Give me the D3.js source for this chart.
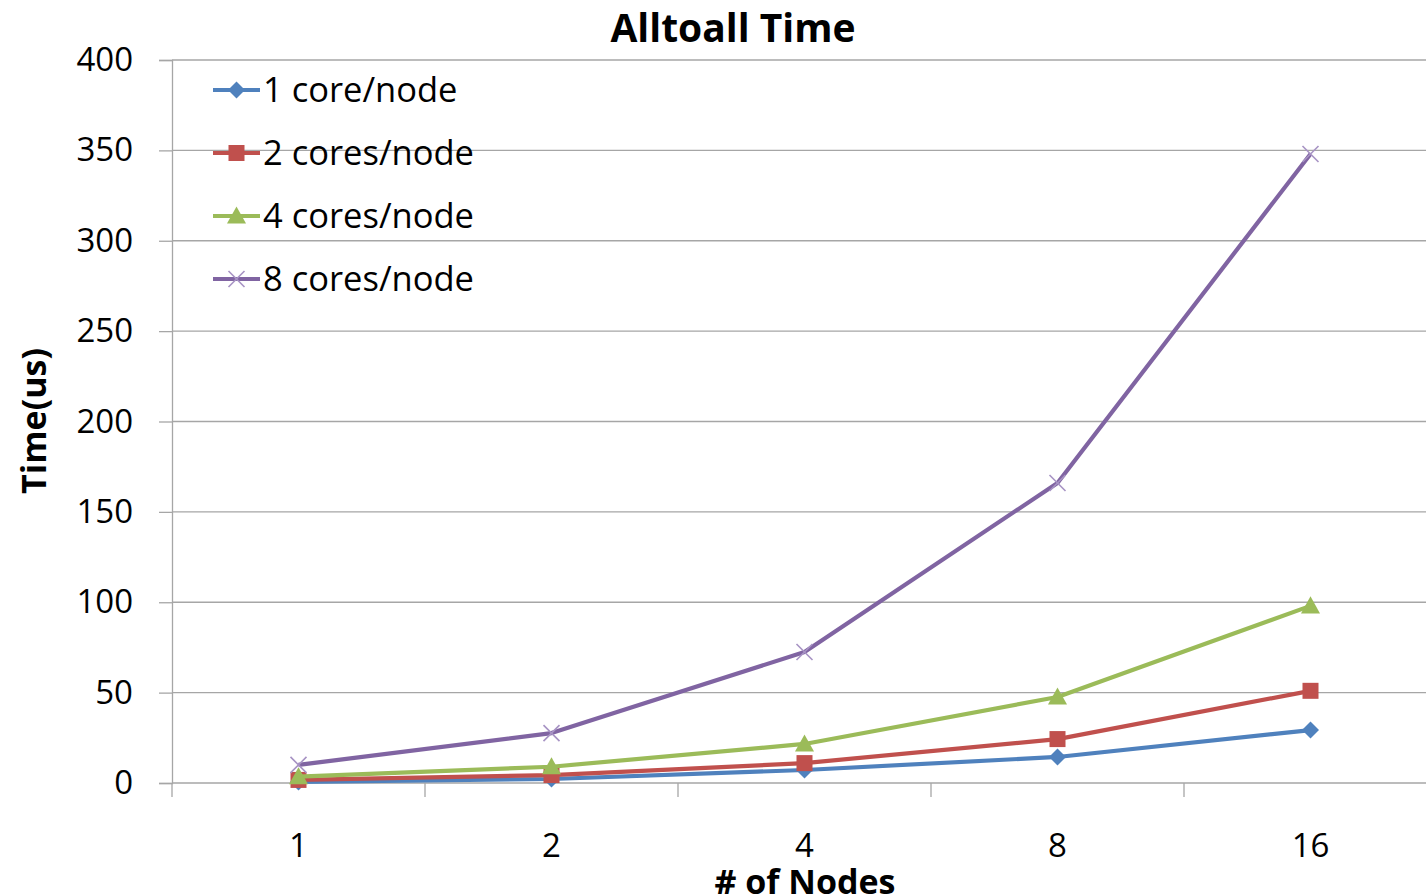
<!DOCTYPE html>
<html>
<head>
<meta charset="utf-8">
<script src="https://cdn.jsdelivr.net/npm/d3@7"></script>
<style>
  html, body { margin: 0; padding: 0; background: #fff; }
  svg { display: block; }
</style>
</head>
<body>
<svg id="chart" width="1426" height="896"></svg>
<script>
// Alltoall timing by node count and cores per node
const nodes = ["1", "2", "4", "8", "16"];
const yTicks = [0, 50, 100, 150, 200, 250, 300, 350, 400];
const seriesNames = ["1 core/node", "2 cores/node", "4 cores/node", "8 cores/node"];
const oneCore   = [0.6, 2.2, 7.2, 14.4, 29.3];
const twoCores  = [1.7, 4.4, 11, 24.3, 51];
const fourCores = [3.5, 9, 21.6, 47.6, 98];
const eightCores = [10, 27.6, 72.5, 166, 348];

const colors = ["#4F81BD", "#C0504D", "#9BBB59", "#8064A2"];
const markers = ["diamond", "square", "triangle", "cross"];
const seriesValues = [oneCore, twoCores, fourCores, eightCores];

const svg = d3.select("#chart");
const m = { left: 172, right: 1437, top: 60, bottom: 783 };

const x = d3.scaleBand().domain(nodes).range([m.left, m.right]);
const y = d3.scaleLinear().domain([0, 400]).range([m.bottom, m.top]);

const font = "'Open Sans', 'Noto Sans', sans-serif";
const gridColor = "#a6a6a6";

// gridlines
svg.append("g").selectAll("line").data(yTicks.filter(d => d > 0)).join("line")
  .attr("x1", m.left).attr("x2", 1426)
  .attr("y1", d => y(d)).attr("y2", d => y(d))
  .attr("stroke", gridColor).attr("stroke-width", 1.3);

// y axis
const yAxis = svg.append("g").attr("transform", `translate(${m.left},0)`)
  .call(d3.axisLeft(y).tickValues(yTicks).tickSize(13).tickPadding(26));
yAxis.select(".domain").attr("stroke", gridColor).attr("stroke-width", 1.3);
yAxis.selectAll(".tick line").attr("stroke", gridColor).attr("stroke-width", 1.3);
yAxis.selectAll("text").attr("font-family", font).attr("font-size", 33).attr("fill", "#000");

// x axis
const xAxis = svg.append("g").attr("transform", `translate(0,${m.bottom})`)
  .call(d3.axisBottom(x).tickSize(0).tickPadding(51));
xAxis.select(".domain").remove();
xAxis.selectAll("text").attr("font-family", font).attr("font-size", 33).attr("fill", "#000");
// category boundary ticks
svg.append("g").selectAll("line").data(nodes).join("line")
  .attr("x1", d => x(d)).attr("x2", d => x(d))
  .attr("y1", m.bottom).attr("y2", m.bottom + 14)
  .attr("stroke", gridColor).attr("stroke-width", 1.3);
svg.append("line").attr("x1", m.left).attr("x2", 1426)
  .attr("y1", m.bottom).attr("y2", m.bottom)
  .attr("stroke", gridColor).attr("stroke-width", 1.3);

const cx = d => x(d) + x.bandwidth() / 2;

function drawMarker(g, type, color, px, py) {
  if (type === "diamond") {
    const r = 8.5;
    g.append("path").attr("d", `M${px},${py - r}L${px + r},${py}L${px},${py + r}L${px - r},${py}Z`).attr("fill", color);
  } else if (type === "square") {
    const r = 8;
    g.append("rect").attr("x", px - r).attr("y", py - r).attr("width", 2 * r).attr("height", 2 * r).attr("fill", color);
  } else if (type === "triangle") {
    const r = 9.5;
    g.append("path").attr("d", `M${px},${py - r}L${px + r},${py + r * 0.8}L${px - r},${py + r * 0.8}Z`).attr("fill", color);
  } else {
    const r = 8;
    g.append("path").attr("d", `M${px - r},${py - r}L${px + r},${py + r}M${px + r},${py - r}L${px - r},${py + r}`)
      .attr("stroke", "#a793c4").attr("stroke-width", 1.6).attr("fill", "none");
  }
}

const line = d3.line().x((d, i) => cx(nodes[i])).y(d => y(d));

seriesValues.forEach((vals, k) => {
  const g = svg.append("g");
  g.append("path").attr("d", line(vals)).attr("fill", "none")
    .attr("stroke", colors[k]).attr("stroke-width", 4.2).attr("stroke-linejoin", "round");
  vals.forEach((v, i) => drawMarker(g, markers[k], colors[k], cx(nodes[i]), y(v)));
});

// legend
const legend = svg.append("g");
seriesNames.forEach((name, k) => {
  const ly = 90 + k * 63;
  legend.append("line").attr("x1", 213).attr("x2", 260).attr("y1", ly).attr("y2", ly)
    .attr("stroke", colors[k]).attr("stroke-width", 4.2);
  drawMarker(legend, markers[k], colors[k], 236.5, ly);
  legend.append("text").attr("x", 263).attr("y", ly + 12)
    .attr("font-family", font).attr("font-size", 34.5).attr("fill", "#000").text(name);
});

// titles
svg.append("text").attr("x", 733).attr("y", 42).attr("text-anchor", "middle")
  .attr("font-family", font).attr("font-weight", "bold").attr("font-size", 39).attr("fill", "#000")
  .text("Alltoall Time");
svg.append("text").attr("transform", "translate(46,421) rotate(-90)").attr("text-anchor", "middle")
  .attr("font-family", font).attr("font-weight", "bold").attr("font-size", 34).attr("fill", "#000")
  .text("Time(us)");
svg.append("text").attr("x", 805).attr("y", 894).attr("text-anchor", "middle")
  .attr("font-family", font).attr("font-weight", "bold").attr("font-size", 34).attr("fill", "#000")
  .text("# of Nodes");
</script>
</body>
</html>
